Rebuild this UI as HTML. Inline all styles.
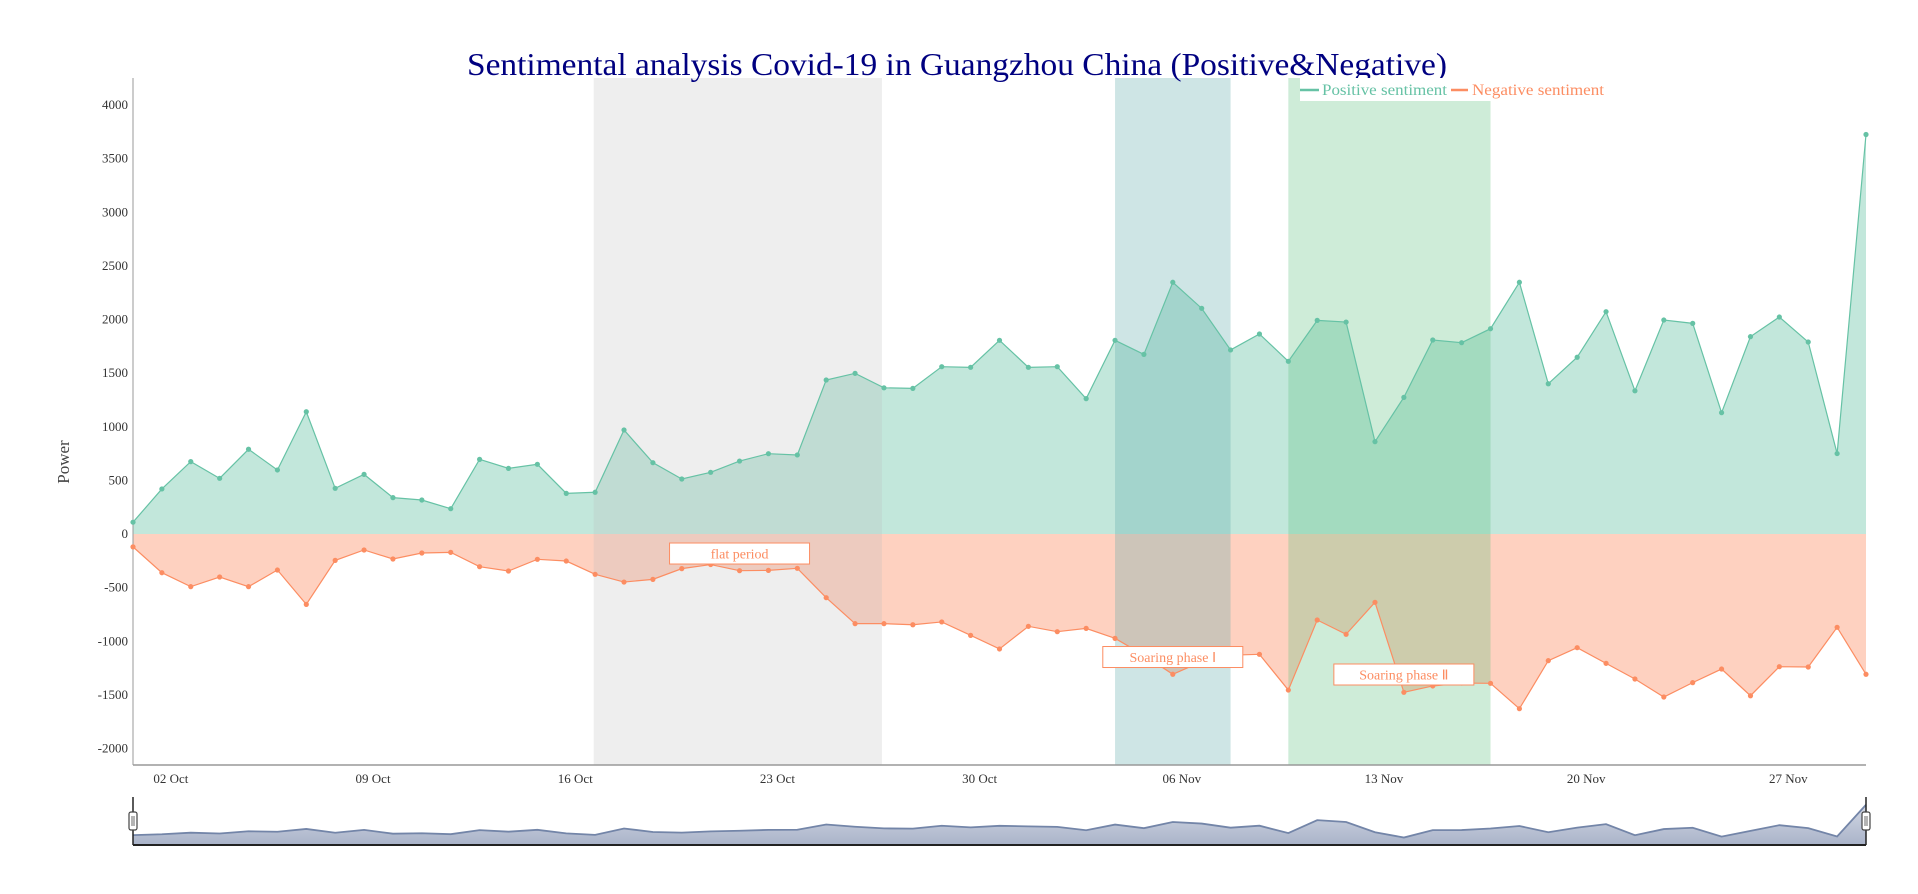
<!DOCTYPE html>
<html><head><meta charset="utf-8"><style>
html,body{margin:0;padding:0;background:#fff;}
svg{display:block;font-family:"Liberation Serif",serif;}
</style></head><body>
<svg id="chart" width="1918" height="894" viewBox="0 0 1918 894">
<rect width="1918" height="894" fill="#fff"/>
<g id="fills"></g>
<g id="bands"></g>
<g id="axes"></g>
<g id="lines"></g>
<g id="slider"></g>
<g id="notes"></g>
<text x="957" y="75" text-anchor="middle" font-size="32" fill="#000080" textLength="980" lengthAdjust="spacingAndGlyphs">Sentimental analysis Covid-19 in Guangzhou China (Positive&amp;Negative)</text>
<g>
<rect x="1300" y="78" width="310" height="23" fill="#fff"/>
<g>
<line x1="1300" y1="90" x2="1319" y2="90" stroke="#66c2a5" stroke-width="2.5"/>
<text x="1322" y="95" font-size="16" fill="#66c2a5" textLength="125" lengthAdjust="spacingAndGlyphs">Positive sentiment</text>
</g>
<g>
<line x1="1451" y1="90" x2="1468" y2="90" stroke="#fc8d62" stroke-width="2.5"/>
<text x="1472" y="95" font-size="16" fill="#fc8d62" textLength="132" lengthAdjust="spacingAndGlyphs">Negative sentiment</text>
</g>
</g>
</svg>
<script>
const dayLabels = ["02 Oct","09 Oct","16 Oct","23 Oct","30 Oct","06 Nov","13 Nov","20 Nov","27 Nov"];
const dayLabelIndex = [1,8,15,22,29,36,43,50,57];
const positive = [110,420,675,519,790,597,1140,426,556,339,317,236,696,612,650,379,389,970,665,513,575,680,749,737,1436,1498,1363,1358,1560,1554,1806,1554,1560,1262,1806,1675,2347,2104,1716,1865,1610,1992,1976,861,1274,1809,1784,1914,2347,1401,1648,2073,1335,1995,1964,1131,1840,2023,1790,750,3725];
const negative = [-120,-361,-491,-401,-491,-336,-656,-246,-149,-233,-177,-171,-305,-345,-236,-252,-376,-448,-423,-323,-285,-342,-339,-320,-594,-836,-836,-846,-820,-945,-1072,-861,-911,-880,-973,-1130,-1308,-1190,-1130,-1122,-1455,-802,-935,-637,-1476,-1417,-1390,-1392,-1629,-1181,-1060,-1206,-1352,-1520,-1386,-1259,-1508,-1237,-1240,-870,-1308];
const yTicks = [-2000,-1500,-1000,-500,0,500,1000,1500,2000,2500,3000,3500,4000];
const bandStarts = [15.95, 34.0, 40.0];
const bandEnds = [25.93, 38.0, 47.0];
const bandColors = ["#bbbbbb","#5ea8a8","#5cc07f"];
const bandOpacity = [0.25,0.3,0.3];
const noteLabels = ["flat period","Soaring phase Ⅰ","Soaring phase Ⅱ"];
const noteIndex = [21.0,36.0,44.0];
const noteValue = [-182,-1147,-1310];

const NS="http://www.w3.org/2000/svg";
const X0=133,X1=1866,N=positive.length;
const PT=78,PB=765;
function x(i){return X0+i*(X1-X0)/(N-1);}
function y(v){return 534-v*0.10725;}
function mk(tag,attrs,parent){const e=document.createElementNS(NS,tag);for(const k in attrs)e.setAttribute(k,attrs[k]);parent.appendChild(e);return e;}
const G=id=>document.getElementById(id);

function areaPath(vals){let d="M"+x(0)+","+y(0);vals.forEach((v,i)=>d+=" L"+x(i)+","+y(v));d+=" L"+x(N-1)+","+y(0)+"Z";return d;}
function linePath(vals){return vals.map((v,i)=>(i?"L":"M")+x(i)+","+y(v)).join(" ");}

let a=mk("path",{d:areaPath(positive),fill:"#66c2a5","fill-opacity":0.4},G("fills"));


a=mk("path",{d:areaPath(negative),fill:"#fc8d62","fill-opacity":0.4},G("fills"));



bandStarts.forEach((s,k)=>{
  const r=mk("rect",{x:x(s),y:PT,width:x(bandEnds[k])-x(s),height:PB-PT,fill:bandColors[k],"fill-opacity":bandOpacity[k]},G("bands"));
  
  
});

let l=mk("line",{x1:X0,y1:PT,x2:X0,y2:PB,stroke:"#999","stroke-width":1},G("axes"));


l=mk("line",{x1:X0,y1:PB,x2:X1,y2:PB,stroke:"#999","stroke-width":1.5},G("axes"));


yTicks.forEach(v=>{
  const t=mk("text",{x:128,y:y(v)+4,"text-anchor":"end","font-size":13,fill:"#333"},G("axes"));
  t.textContent=v;
  
  
});
dayLabels.forEach((s,k)=>{
  const t=mk("text",{x:x(dayLabelIndex[k])+9,y:783,"text-anchor":"middle","font-size":13,fill:"#333"},G("axes"));
  t.textContent=s;
  
  
});
let yt=mk("text",{x:0,y:0,"text-anchor":"middle","font-size":17,fill:"#444",transform:"translate(69,462) rotate(-90)"},G("axes"));
yt.textContent="Power";



[[positive,"#66c2a5","positive"],[negative,"#fc8d62","negative"]].forEach(([vals,c,nm])=>{
  const p=mk("path",{d:linePath(vals),fill:"none",stroke:c,"stroke-width":1.2},G("lines"));
  
  
  vals.forEach((v,i)=>{
    const d=mk("circle",{cx:x(i),cy:y(v),r:2.6,fill:c},G("lines"));
    
    
  });
});

noteLabels.forEach((s,k)=>{
  const cx=x(noteIndex[k]),cy=y(noteValue[k]);
  const g=mk("g",{},G("notes"));
  
  
  mk("rect",{x:cx-70,y:cy-10.5,width:140,height:21,fill:"#fff",stroke:"#fc8d62","stroke-width":1},g);
  const t=mk("text",{x:cx,y:cy+5,"text-anchor":"middle","font-size":14,fill:"#fc8d62"},g);
  t.textContent=s;
});

const SB=845,ST=797;
function sy(i){return SB-10-(positive[i]+negative[i])*0.0125;}
let sd="M"+x(0)+","+SB;for(let i=0;i<N;i++)sd+=" L"+x(i)+","+sy(i);sd+=" L"+x(N-1)+","+SB+"Z";
const grad=mk("linearGradient",{id:"sg",x1:0,y1:0,x2:0,y2:1},mk("defs",{},G("slider")));
mk("stop",{offset:"0","stop-color":"#d3d8e4"},grad);mk("stop",{offset:"1","stop-color":"#a9b3c9"},grad);
let sa=mk("path",{d:sd,fill:"url(#sg)"},G("slider"));


let sl=mk("path",{d:positive.map((v,i)=>(i?"L":"M")+x(i)+","+sy(i)).join(" "),fill:"none",stroke:"#7385a8","stroke-width":1.8},G("slider"));


let sb=mk("line",{x1:X0,y1:SB,x2:X1,y2:SB,stroke:"#222","stroke-width":2},G("slider"));


[X0,X1].forEach((hx,k)=>{
  const g=mk("g",{},G("slider"));
  
  
  mk("line",{x1:hx,y1:ST,x2:hx,y2:SB,stroke:"#222","stroke-width":1.5},g);
  mk("rect",{x:hx-4,y:812,width:8,height:18,rx:2,fill:"#fff",stroke:"#444","stroke-width":1.2},g);
  mk("line",{x1:hx-1,y1:816,x2:hx-1,y2:826,stroke:"#444","stroke-width":0.8},g);
  mk("line",{x1:hx+1,y1:816,x2:hx+1,y2:826,stroke:"#444","stroke-width":0.8},g);
});
</script>
</body></html>
